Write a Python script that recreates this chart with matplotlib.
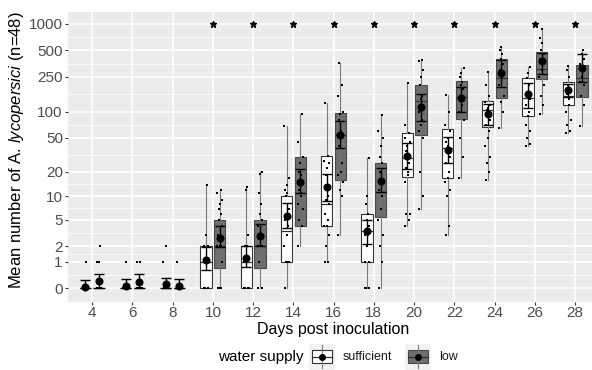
import numpy as np
import matplotlib
matplotlib.use("Agg")
import matplotlib.pyplot as plt
from matplotlib.patches import Rectangle

plt.rcParams['font.family'] = ['Liberation Sans', 'DejaVu Sans']
plt.rcParams['mathtext.fontset'] = 'custom'
plt.rcParams['mathtext.rm'] = 'Liberation Sans'
plt.rcParams['mathtext.it'] = 'Liberation Sans:italic'

# ---------------- data ----------------
days = [4, 6, 8, 10, 12, 14, 16, 18, 20, 22, 24, 26, 28]
signif = ['', '', '', '*', '*', '*', '*', '*', '*', '*', '*', '*', '*']
star_level = 1000
y_breaks = [0, 1, 2, 5, 10, 20, 50, 100, 250, 500, 1000]

# sufficient water supply
suff_q1 = [0, 0, 0, 0, 0, 1, 4, 1, 17.4, 16.6, 66, 89, 119]
suff_med = [0, 0, 0, 1, 1, 3.5, 8, 3.5, 29, 38, 104, 142, 151]
suff_q3 = [0, 0, 0, 2, 2, 10, 31, 6, 57, 63, 133, 244, 220]
suff_lo = [0, 0, 0, 0, 0, 0, 1, 0, 4, 3, 16, 40, 56]
suff_hi = [0, 0, 0, 14, 13, 68, 125, 29, 211, 155, 286, 326, 335]
suff_mean = [0.04, 0.05, 0.1, 1.08, 1.17, 5.6, 13.2, 3.4, 31, 36, 94, 158, 177]
suff_elo = [0, 0, 0, 0.6, 0.74, 3.8, 8.8, 2.2, 21.5, 25, 70, 111, 146]
suff_ehi = [0.23, 0.26, 0.31, 1.9, 2.0, 8.2, 18.6, 5.0, 44, 51, 123, 214, 207]
suff_pts = [
    [0, 0, 0, 0, 0, 1],
    [0, 0, 0, 0, 0, 1],
    [0, 0, 0, 0, 1, 2],
    [0, 0, 0, 0, 1, 1, 1, 2, 2, 3, 14],
    [0, 0, 0, 0, 1, 1, 2, 2, 3, 12, 13],
    [0, 1, 1, 1, 2, 3, 4, 5, 7, 10, 11, 12, 14, 17, 68],
    [1, 1, 2, 3, 4, 4, 5, 6, 8, 9, 10, 18, 22, 25, 27, 31, 125],
    [0, 0, 0, 1, 1, 2, 3, 3, 4, 5, 6, 8, 10, 29],
    [4, 5, 6, 6, 15, 18, 20, 22, 25, 28, 30, 35, 40, 45, 50, 57, 70, 211],
    [3, 4, 10, 12, 15, 17, 20, 25, 30, 35, 40, 45, 50, 60, 70, 100, 155],
    [16, 20, 25, 30, 40, 50, 60, 70, 80, 90, 100, 105, 110, 120, 130, 150, 200, 286],
    [40, 42, 50, 60, 70, 90, 100, 120, 140, 160, 200, 240, 280, 326],
    [56, 60, 70, 80, 100, 120, 140, 160, 180, 200, 250, 300, 335],
]

# low water supply
low_q1 = [0, 0, 0, 0.7, 0.7, 4, 16, 5.4, 54, 82, 142, 234, 146]
low_med = [0, 0, 0, 2, 2, 11, 54, 11.4, 133, 146, 244, 304, 244]
low_q3 = [0, 0, 0, 5, 5, 30, 96, 25, 201, 224, 396, 476, 341]
low_lo = [0, 0, 0, 0, 0, 2, 3, 0, 7, 17, 64, 94, 68]
low_hi = [0, 0, 0, 12, 20, 95, 360, 91, 388, 312, 551, 876, 505]
low_mean = [0.19, 0.18, 0.05, 2.73, 2.93, 15, 54, 15.4, 112, 142, 279, 379, 312]
low_elo = [0, 0, 0, 1.9, 2.0, 11.1, 37.7, 11.4, 78, 100, 193, 267, 220]
low_ehi = [0.43, 0.43, 0.28, 4.06, 4.4, 21.3, 78, 21.9, 158, 193, 388, 463, 451]
low_pts = [
    [0, 0, 0, 0, 1, 1, 2],
    [0, 0, 0, 0, 1, 1],
    [0, 0, 0, 0, 1],
    [0, 0, 0, 1, 2, 2, 2, 3, 4, 5, 6, 7, 8, 9, 11, 12],
    [0, 0, 1, 2, 2, 2, 3, 4, 5, 6, 8, 11, 19, 20],
    [2, 4, 5, 7, 8, 10, 11, 12, 14, 15, 18, 20, 25, 30, 45, 95],
    [3, 10, 12, 15, 18, 20, 25, 40, 50, 55, 60, 80, 95, 100, 150, 200, 360],
    [0, 1, 2, 3, 5, 7, 10, 12, 15, 20, 25, 30, 40, 50, 60, 91],
    [7, 10, 20, 50, 60, 70, 80, 100, 120, 140, 150, 200, 250, 300, 380, 388],
    [17, 30, 50, 80, 100, 120, 140, 150, 180, 200, 220, 250, 280, 312],
    [64, 100, 130, 150, 200, 250, 280, 300, 350, 400, 450, 500, 551],
    [94, 120, 150, 200, 250, 300, 350, 400, 450, 500, 600, 700, 876],
    [68, 120, 150, 200, 220, 250, 300, 350, 400, 450, 505],
]

groups = ['sufficient', 'low']
group_fill = ['#FFFFFF', '#6E6E6E']
group_edge = ['#333333', '#4A4A4A']

# ---------------- figure ----------------
W, H = 592, 370
fig = plt.figure(figsize=(W / 100, H / 100), dpi=100)
L, R, T, B = 68, 592, 12, 302
ax = fig.add_axes([L / W, 1 - B / H, (R - L) / W, (B - T) / H])


def fwd(x):
    x = np.asarray(x, dtype=float)
    return np.log10(np.clip(x, -0.999, None) + 1)


def inv(t):
    return 10 ** np.asarray(t, dtype=float) - 1


ax.set_yscale('function', functions=(fwd, inv))

xpos = np.arange(1, len(days) + 1)
dodge = 0.17
bw = 0.28
jit = np.array([-0.05, 0.04, -0.02, 0.06, -0.06, 0.01, 0.03, -0.04,
                0.05, -0.01, 0.02, -0.03, 0.0, 0.06, -0.06, 0.035, -0.045, 0.015])

series = [
    (suff_q1, suff_med, suff_q3, suff_lo, suff_hi, suff_mean, suff_elo, suff_ehi, suff_pts),
    (low_q1, low_med, low_q3, low_lo, low_hi, low_mean, low_elo, low_ehi, low_pts),
]

for gi, (q1, med, q3, lo, hi, mean, elo, ehi, pts) in enumerate(series):
    pos = xpos + (-dodge if gi == 0 else dodge)
    stats = [dict(med=med[i], q1=q1[i], q3=q3[i], whislo=lo[i], whishi=hi[i], fliers=[])
             for i in range(len(days))]
    ax.bxp(stats, positions=pos, widths=bw, patch_artist=True, showfliers=False,
           showcaps=False,
           boxprops=dict(facecolor=group_fill[gi], edgecolor=group_edge[gi], linewidth=0.8),
           medianprops=dict(color='#333333', linewidth=0.9),
           whiskerprops=dict(color='#7A7A7A', linewidth=0.8),
           manage_ticks=False, zorder=2)
    for i in range(len(days)):
        v = np.array(pts[i], dtype=float)
        ax.plot(pos[i] + jit[:len(v)], v, 's', ms=1.7, color='black', mew=0, zorder=3)
    m = np.array(mean)
    ax.errorbar(pos, m, yerr=[m - np.array(elo), np.array(ehi) - m], fmt='o', ms=4.8,
                color='black', ecolor='black', elinewidth=1.0, capsize=3.3, capthick=1.0,
                zorder=4)

for i, s in enumerate(signif):
    if s:
        ax.plot(xpos[i], star_level, marker='*', ms=4.6, color='black', ls='none', zorder=5)

ax.set_xlim(0.4, 13.42)
ax.set_ylim(inv((288 - B) / 88.0), inv((288 - T) / 88.0))

ax.set_xticks(xpos)
ax.set_xticklabels([str(d) for d in days])
ax.set_yticks(y_breaks)
ax.set_yticklabels([str(b) for b in y_breaks])
tb = fwd(y_breaks)
ax.set_yticks(inv((tb[:-1] + tb[1:]) / 2), minor=True)
ax.xaxis.set_minor_locator(matplotlib.ticker.NullLocator())

ax.set_facecolor('#EBEBEB')
for sp in ax.spines.values():
    sp.set_visible(False)
ax.grid(which='major', color='white', linewidth=1.1)
ax.grid(which='minor', axis='y', color='white', linewidth=0.55)
ax.set_axisbelow(True)
ax.tick_params(which='major', length=2.5, width=0.8, color='#333333',
               labelsize=11, labelcolor='#4D4D4D', pad=1.2)
ax.tick_params(axis='x', which='major', pad=0.3)
ax.tick_params(which='minor', length=0)

fig.text(333.5 / W, 1 - 329.5 / H, 'Days post inoculation', ha='center', va='center',
         fontsize=11.5, color='black')
fig.text(17 / W, 1 - 150 / H, r'Mean number of A. $\mathit{lycopersici}$ (n=48)',
         rotation=90, ha='center', va='center', fontsize=12, color='black')

# ---------------- legend ----------------
ly = 356.5
fig.text(304 / W, 1 - ly / H, 'water supply', ha='right', va='center', fontsize=11)
key_x = [309, 405]
lab_x = [343, 439]
ks = 26
for gi, g in enumerate(groups):
    kax = fig.add_axes([key_x[gi] / W, 1 - (ly + ks / 2) / H, ks / W, ks / H])
    kax.set_xlim(0, 1)
    kax.set_ylim(0, 1)
    kax.axis('off')
    kax.add_patch(Rectangle((0, 0), 1, 1, facecolor='#F2F2F2', edgecolor='none'))
    kax.plot([0.5, 0.5], [0.05, 0.95], color='#7A7A7A', lw=0.8)
    kax.add_patch(Rectangle((0.1, 0.25), 0.8, 0.5, facecolor=group_fill[gi],
                            edgecolor=group_edge[gi], lw=0.8))
    kax.plot([0.1, 0.9], [0.5, 0.5], color='#333333', lw=0.9)
    kax.plot([0.5], [0.5], 'o', ms=4, color='black')
    fig.text(lab_x[gi] / W, 1 - ly / H, g, ha='left', va='center', fontsize=9,
             color='#1A1A1A')

fig.savefig('out.png', dpi=100)
